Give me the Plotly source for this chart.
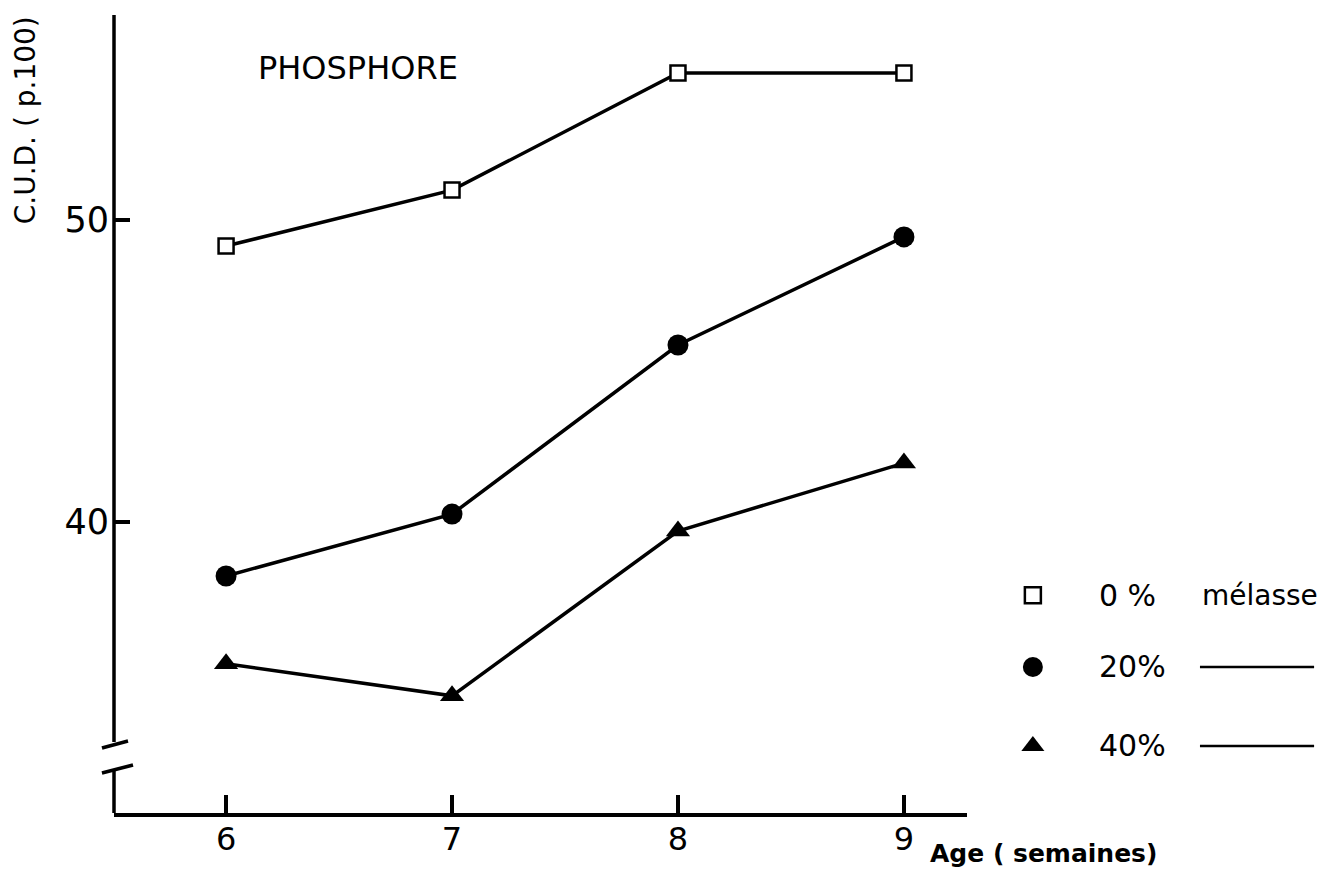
import plotly.graph_objects as go

# ---- data ----
ages = [6, 7, 8, 9]
cud_0 = [49.14, 50.99, 54.87, 54.87]      # 0 % mélasse (open squares)
cud_20 = [38.21, 40.26, 45.86, 49.44]     # 20 % (filled circles)
cud_40 = [35.30, 34.24, 39.70, 41.95]     # 40 % (filled triangles)

x_ticks = [6, 7, 8, 9]
y_ticks = [40, 50]

legend_labels = ["0 %", "20%", "40%"]
legend_symbols = ["square", "circle", "triangle-up"]

FONT = "DejaVu Sans"
BLACK = "#000000"
LW = 3.5

fig = go.Figure()

series = [
    (cud_0, dict(symbol="square", size=15, color="white", line=dict(color=BLACK, width=2.5))),
    (cud_20, dict(symbol="circle", size=21, color=BLACK, line=dict(width=0))),
    (cud_40, dict(symbol="triangle-up", size=21, color=BLACK, line=dict(width=0))),
]
for vals, mk in series:
    fig.add_trace(go.Scatter(
        x=ages, y=vals, mode="lines+markers",
        line=dict(color=BLACK, width=LW),
        marker=mk, showlegend=False, cliponaxis=False, hoverinfo="skip",
    ))

# ---- custom legend on an auxiliary axis ----
legend_rows_y = [0.273, 0.183, 0.084]
legend_marker_x = 0.134
legend_sizes = [16, 20, 20]
legend_colors = ["white", BLACK, BLACK]
for i in range(3):
    fig.add_trace(go.Scatter(
        x=[legend_marker_x], y=[legend_rows_y[i]], mode="markers",
        xaxis="x2", yaxis="y2",
        marker=dict(symbol=legend_symbols[i], size=legend_sizes[i],
                    color=legend_colors[i],
                    line=dict(color=BLACK, width=2.5 if i == 0 else 0)),
        showlegend=False, hoverinfo="skip", cliponaxis=False,
    ))

annotations = []
shapes = []
for i, lab in enumerate(legend_labels):
    annotations.append(dict(
        x=0.323, y=legend_rows_y[i], xref="x2", yref="y2", text=lab,
        showarrow=False, xanchor="left", yanchor="middle",
        font=dict(family=FONT, size=30, color=BLACK)))
annotations.append(dict(
    x=0.626, y=legend_rows_y[0], xref="x2", yref="y2", text="mélasse",
    showarrow=False, xanchor="left", yanchor="middle",
    font=dict(family=FONT, size=28, color=BLACK)))
for i in (1, 2):
    shapes.append(dict(type="line", xref="x2", yref="y2",
                       x0=0.626, x1=0.962, y0=legend_rows_y[i], y1=legend_rows_y[i],
                       line=dict(color=BLACK, width=2.5)))

# ---- y axis with break ----
ax_line = dict(color=BLACK, width=LW)
shapes += [
    dict(type="line", xref="x domain", yref="y domain", x0=0, x1=0, y0=0.089, y1=1.0, line=ax_line),
    dict(type="line", xref="x domain", yref="y domain", x0=0, x1=0, y0=0.0, y1=0.054, line=ax_line),
    dict(type="line", xref="x domain", yref="y domain", x0=-0.0141, x1=0.0164, y0=0.0815, y1=0.0902, line=ax_line),
    dict(type="line", xref="x domain", yref="y domain", x0=-0.0141, x1=0.0223, y0=0.0501, y1=0.0602, line=ax_line),
]

annotations += [
    dict(x=-0.0734, y=0.868, xref="paper", yref="paper", text="C.U.D. ( p.100)",
         textangle=-90, showarrow=False, xanchor="center", yanchor="middle",
         font=dict(family=FONT, size=28, color=BLACK)),
    dict(x=0.201, y=0.934, xref="paper", yref="paper", text="PHOSPHORE",
         showarrow=False, xanchor="center", yanchor="middle",
         font=dict(family=FONT, size=32, color=BLACK)),
    dict(x=0.671, y=-0.051, xref="paper", yref="paper", text="<b>Age ( semaines)</b>",
         showarrow=False, xanchor="left", yanchor="middle",
         font=dict(family=FONT, size=25, color=BLACK)),
]

# page has an 8px body margin: figure sized/positioned to compensate
fig.update_layout(
    width=1329, height=875,
    margin=dict(l=106, r=10, t=7, b=70),
    paper_bgcolor="white", plot_bgcolor="white",
    showlegend=False,
    xaxis=dict(domain=[0, 0.7032], range=[5.504, 9.279],
               tickvals=x_ticks, ticktext=[str(v) for v in x_ticks],
               ticks="inside", ticklen=18, tickwidth=LW, tickcolor=BLACK,
               showline=True, linecolor=BLACK, linewidth=LW,
               showgrid=False, zeroline=False, ticklabelstandoff=-5,
               tickfont=dict(family=FONT, size=32, color=BLACK)),
    yaxis=dict(domain=[0, 1], range=[30.36, 56.79],
               tickvals=y_ticks, ticktext=[str(v) for v in y_ticks],
               ticks="inside", ticklen=16, tickwidth=LW, tickcolor=BLACK,
               showline=False, showgrid=False, zeroline=False,
               ticklabelstandoff=4,
               tickfont=dict(family=FONT, size=35, color=BLACK)),
    xaxis2=dict(domain=[0.72, 1.0], range=[0, 1], visible=False, anchor="y2"),
    yaxis2=dict(domain=[0, 1], range=[0, 1], visible=False, anchor="x2"),
    shapes=shapes,
    annotations=annotations,
)

fig.write_html("out.html")
